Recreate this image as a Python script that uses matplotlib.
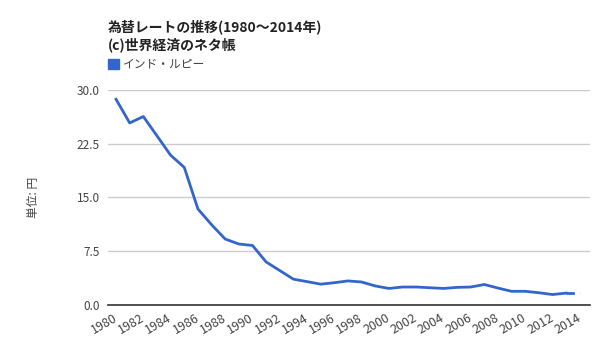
import matplotlib.pyplot as plt

plt.rcParams['font.family'] = ['Noto Sans CJK JP', 'DejaVu Sans']

years = list(range(1980, 2015))
rupee_yen = [28.7, 25.4, 26.3, 23.6, 20.9, 19.2, 13.4, 11.2, 9.2, 8.5,
             8.3, 6.0, 4.8, 3.6, 3.25, 2.9, 3.1, 3.35, 3.2, 2.65,
             2.3, 2.5, 2.5, 2.4, 2.3, 2.45, 2.5, 2.85, 2.35, 1.9,
             1.9, 1.7, 1.45, 1.65, 1.65]
y_ticks = [0.0, 7.5, 15.0, 22.5, 30.0]
x_ticks = list(range(1980, 2015, 2))

blue = '#3366cc'
grey = '#444444'

fig = plt.figure(figsize=(6, 3.6), dpi=100)
ax = fig.add_axes([0.18, 0.153, 0.803, 0.597])

ax.plot(years[:-1], rupee_yen[:-1], color=blue, lw=2, solid_joinstyle='round')
ax.plot(years[-2:], rupee_yen[-2:], color=blue, lw=2, ls=(0, (3, 2)))

ax.set_xlim(1979.41, 2014.73)
ax.set_ylim(0, 30)
ax.set_yticks(y_ticks)
ax.set_yticklabels([f'{v:.1f}' for v in y_ticks])
ax.set_xticks(x_ticks)
ax.set_xticklabels([str(x) for x in x_ticks], rotation=30, ha='right',
                   va='center', rotation_mode='anchor')
ax.tick_params(axis='y', length=0, labelsize=8.5, colors=grey, pad=6)
ax.tick_params(axis='x', length=0, labelsize=9, colors=grey, pad=9)

ax.grid(axis='y', color='#cccccc', lw=1)
ax.set_axisbelow(True)
for s in ['top', 'right', 'left']:
    ax.spines[s].set_visible(False)
ax.spines['bottom'].set_color('#333333')
ax.spines['bottom'].set_linewidth(1.2)

ax.set_ylabel('単位: 円', fontsize=8.5, color=grey, labelpad=26)

fig.text(0.18, 0.925, '為替レートの推移(1980～2014年)', fontsize=10, fontweight='bold', color='#222222', va='center')
fig.text(0.18, 0.875, '(c)世界経済のネタ帳', fontsize=10, fontweight='bold', color='#222222', va='center')
fig.patches.append(plt.Rectangle((0.18, 0.807), 0.018, 0.03, transform=fig.transFigure, color=blue))
fig.text(0.205, 0.822, 'インド・ルピー', fontsize=8.5, color=grey, va='center')

fig.savefig('out.png', dpi=100)
